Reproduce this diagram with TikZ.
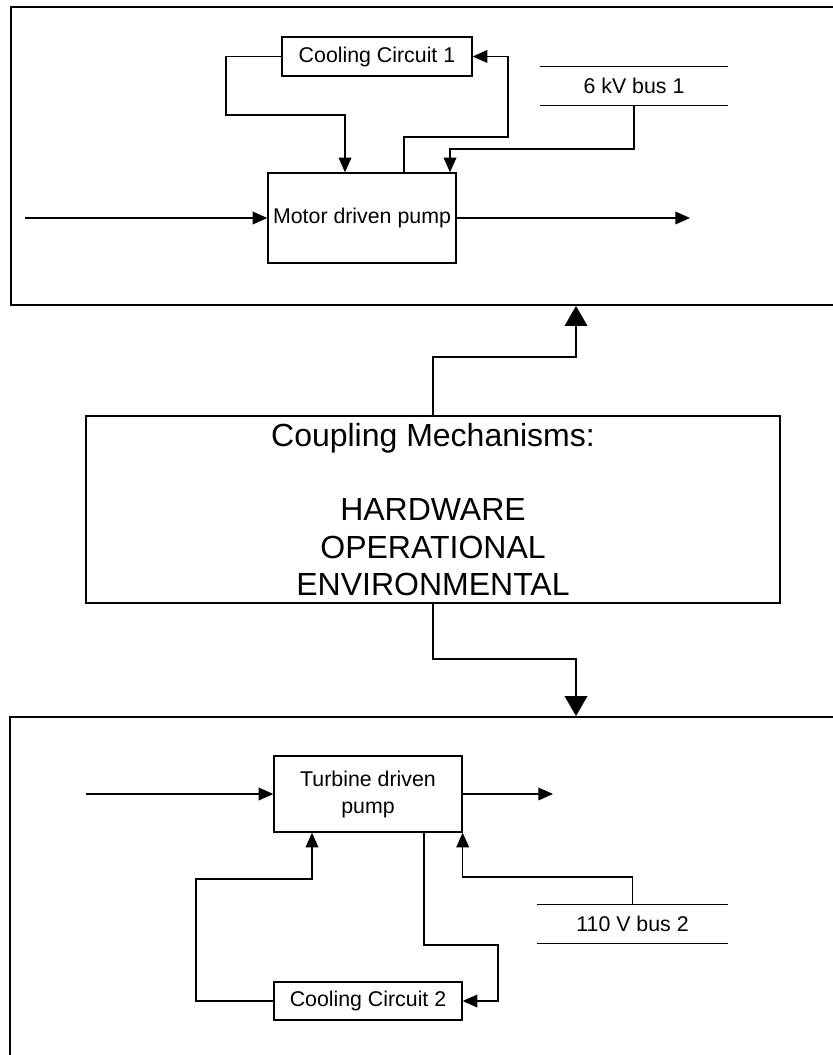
\documentclass[tikz,border=0pt]{standalone}
\usepackage{fontspec}
\setmainfont{Liberation Sans}
\usetikzlibrary{arrows.meta,calc}
\tikzset{
  conn/.style={line width=1pt},
  sarr/.style={conn,-{Triangle[length=11pt,width=9.5pt]}},
  barr/.style={conn,-{Triangle[length=15pt,width=17pt]}},
  box/.style={draw,line width=1pt,inner sep=0pt,align=center,font=\fontsize{16}{20.25}\selectfont},
  busnode/.style={inner sep=0pt,align=center,font=\fontsize{16}{20.25}\selectfont,minimum height=28.5pt},
  frame/.style={draw,line width=1.4pt,inner sep=0pt},
  bigbox/.style={draw,line width=1pt,inner sep=0pt,align=center,font=\fontsize{24}{28}\selectfont}
}
\begin{document}
\begin{tikzpicture}[x=0.75pt,y=-0.75pt]
\useasboundingbox (0,0) rectangle (832,1055);
% frames
\node[frame,minimum width=741.75pt,minimum height=223.5pt] (sys1) at (505.5,156) {};
\node[frame,minimum width=742.5pt,minimum height=287.25pt] (sys2) at (505,908.5) {};
% top system
\node[box,minimum width=142.5pt,minimum height=29.25pt] (cc1) at (377,56.5) {Cooling Circuit 1};
\node[box,minimum width=141pt,minimum height=67.5pt] (motor) at (362,218) {Motor driven pump};
\node[busnode,minimum width=141pt] (bus1) at (634,86) {6 kV bus 1};
\draw[conn] (bus1.north west) -- (bus1.north east);
\draw[conn] (bus1.south west) -- (bus1.south east);
\coordinate (in1) at (25,218);
\coordinate (out1) at (690,218);
\coordinate (c1a) at (226,115);
\coordinate (c1b) at (508,137);
\coordinate (m1) at ([xshift=-12.75pt]motor.north);
\coordinate (m2) at ([xshift=31.5pt]motor.north);
\coordinate (m3) at ([xshift=66pt]motor.north);
\coordinate (b1) at (634,149);
\draw[sarr] (in1) -- (motor.west);
\draw[sarr] (motor.east) -- (out1);
\draw[sarr] (cc1.west) -| (c1a) -| (m1);
\draw[sarr] (m2) |- (c1b) |- (cc1.east);
\draw[sarr] (bus1.south) -- (bus1.south |- b1) -| (m3);
% coupling
\node[bigbox,minimum width=520.5pt,minimum height=140.25pt] (coup) at (433,509.5)
  {Coupling Mechanisms:\\[28pt]HARDWARE\\OPERATIONAL\\ENVIRONMENTAL};
\coordinate (u1) at (576,357);
\coordinate (d1) at (576,659);
\draw[barr] (coup.north) |- (u1) -- (u1 |- sys1.south);
\draw[barr] (coup.south) |- (d1) -- (d1 |- sys2.north);
% bottom system
\node[box,minimum width=141pt,minimum height=57pt] (turb) at (368,794) {Turbine driven\\pump};
\node[box,minimum width=141pt,minimum height=28.5pt] (cc2) at (368,1001) {Cooling Circuit 2};
\node[busnode,minimum width=143.25pt] (bus2) at (632.5,924) {110 V bus 2};
\draw[conn] (bus2.north west) -- (bus2.north east);
\draw[conn] (bus2.south west) -- (bus2.south east);
\coordinate (in2) at (86,794);
\coordinate (out2) at (553,794);
\coordinate (c2a) at (196,879);
\coordinate (c2b) at (498,945);
\coordinate (t1) at ([xshift=-42pt]turb.south);
\coordinate (t2) at ([xshift=42pt]turb.south);
\coordinate (b2) at (632.5,877);
\draw[sarr] (in2) -- (turb.west);
\draw[sarr] (turb.east) -- (out2);
\draw[sarr] (cc2.west) -| (c2a) -| (t1);
\draw[sarr] (t2) |- (c2b) |- (cc2.east);
\draw[sarr] (bus2.north) -- (bus2.north |- b2) -| (turb.south east);
\end{tikzpicture}
\end{document}
